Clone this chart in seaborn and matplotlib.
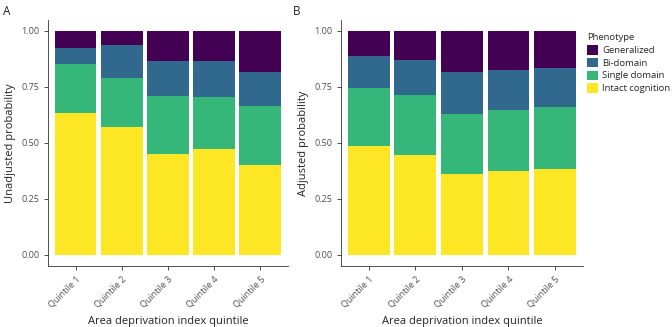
import matplotlib
matplotlib.use("Agg")
import matplotlib.pyplot as plt
from matplotlib.patches import Patch
import numpy as np
import pandas as pd
import seaborn as sns

quintiles = ["Quintile 1", "Quintile 2", "Quintile 3", "Quintile 4", "Quintile 5"]
phenotypes = ["Generalized", "Bi-domain", "Single domain", "Intact cognition"]
colors = ["#440154", "#31688E", "#35B779", "#FDE725"]

# Panel A (unadjusted) probabilities per phenotype
unadj_intact = [0.635, 0.570, 0.452, 0.473, 0.403]
unadj_single = [0.219, 0.222, 0.256, 0.232, 0.262]
unadj_bi = [0.072, 0.146, 0.160, 0.163, 0.152]
unadj_gen = [0.074, 0.062, 0.132, 0.132, 0.183]

# Panel B (adjusted) probabilities per phenotype
adj_intact = [0.487, 0.448, 0.359, 0.375, 0.385]
adj_single = [0.259, 0.266, 0.270, 0.271, 0.276]
adj_bi = [0.144, 0.158, 0.188, 0.180, 0.174]
adj_gen = [0.110, 0.128, 0.183, 0.174, 0.165]

sns.set_style("white")
plt.rcParams["font.family"] = ["Open Sans", "DejaVu Sans"]

fig = plt.figure(figsize=(6.72, 3.27), dpi=100)
axA = fig.add_axes([0.0714, 0.1865, 0.357, 0.753])
axB = fig.add_axes([0.5074, 0.1865, 0.360, 0.753])


def draw(ax, intact, single, bi, gen, ylabel):
    df = pd.DataFrame({"quintile": quintiles, "Intact cognition": intact,
                       "Single domain": single, "Bi-domain": bi, "Generalized": gen})
    order_bottom_up = ["Intact cognition", "Single domain", "Bi-domain", "Generalized"]
    cum = df[order_bottom_up].cumsum(axis=1)
    # draw from the top cumulative down so lower segments overlay
    for ph in reversed(order_bottom_up):
        col = colors[phenotypes.index(ph)]
        sns.barplot(x=df["quintile"], y=cum[ph], color=col, width=0.9,
                    linewidth=0, saturation=1, ax=ax, order=quintiles)
    ax.set_xlim(-0.6, 4.6)
    ax.set_ylim(-0.05, 1.05)
    ax.set_yticks([0, 0.25, 0.5, 0.75, 1.0])
    ax.set_yticklabels(["0.00", "0.25", "0.50", "0.75", "1.00"])
    ax.set_xticks(range(5))
    ax.set_xticklabels(quintiles, rotation=45, ha="right", rotation_mode="anchor")
    ax.tick_params(axis="both", which="both", length=3, width=0.6, color="#333333",
                   labelsize=6.5, labelcolor="#4D4D4D", pad=3, left=True, bottom=True)
    for s in ["top", "right"]:
        ax.spines[s].set_visible(False)
    for s in ["left", "bottom"]:
        ax.spines[s].set_linewidth(0.6)
        ax.spines[s].set_color("#333333")
    ax.set_ylabel(ylabel, fontsize=8, color="#222222", labelpad=4)
    ax.set_xlabel("Area deprivation index quintile", fontsize=8, color="#222222", labelpad=5)


draw(axA, unadj_intact, unadj_single, unadj_bi, unadj_gen, "Unadjusted probability")
draw(axB, adj_intact, adj_single, adj_bi, adj_gen, "Adjusted probability")

handles = [Patch(facecolor=c, edgecolor="none", label=p) for p, c in zip(phenotypes, colors)]
leg = axB.legend(handles=handles, title="Phenotype", loc="upper left",
                 bbox_to_anchor=(1.017, 0.945), frameon=False, fontsize=6.8,
                 title_fontsize=6.8, handlelength=1.15, handleheight=1.15,
                 handletextpad=0.45, labelspacing=0.3, borderaxespad=0,
                 borderpad=0)
leg._legend_box.align = "left"

fig.text(0.004, 0.985, "A", fontsize=8.5, va="top", ha="left", color="#222222")
fig.text(0.436, 0.985, "B", fontsize=8.5, va="top", ha="left", color="#222222")

fig.savefig("out.png", dpi=100, facecolor="white")
